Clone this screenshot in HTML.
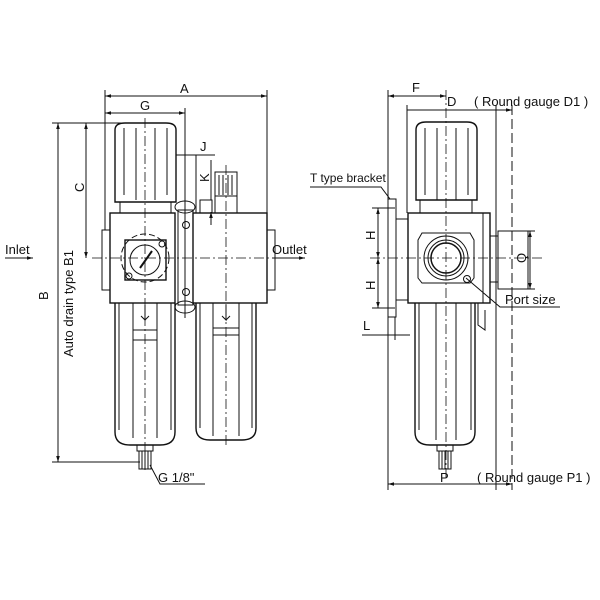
<!DOCTYPE html>
<html><head><meta charset="utf-8"><style>
html,body{margin:0;padding:0;background:#fff;}
svg{display:block;}
text{font-family:"Liberation Sans",sans-serif;fill:#111;}
</style></head><body>
<svg width="600" height="600" viewBox="0 0 600 600" xmlns="http://www.w3.org/2000/svg">
<defs>
<marker id="ar" viewBox="0 0 10 10" refX="10" refY="5" markerWidth="6" markerHeight="6" orient="auto-start-reverse"><path d="M0,2 L10,5 L0,8z" fill="#111"/></marker>
</defs>
<g stroke="#111" fill="none" stroke-width="1">
<path d="M115,130 Q115,123 125,123 L166,123 Q176,123 176,130 L176,202 L115,202 Z" stroke-width="1.4"/>
<path d="M124,128 V195 M136,128 V200 M155,128 V200 M167,128 V195"/>
<rect x="120" y="202" width="51" height="11"/>
<rect x="110" y="213" width="65" height="90" stroke-width="1.4"/>
<rect x="102" y="230" width="8" height="60"/>
<rect x="178" y="210" width="15" height="95"/>
<ellipse cx="185" cy="207" rx="10" ry="6"/>
<ellipse cx="185" cy="307" rx="10" ry="6"/>
<circle cx="186" cy="225" r="3.5"/><circle cx="186" cy="292" r="3.5"/>
<rect x="193" y="213" width="74" height="90" stroke-width="1.4"/>
<rect x="267" y="230" width="8" height="60"/>
<rect x="215" y="172" width="22" height="41"/>
<path d="M219,175 V195 M223,175 V195 M228,175 V195 M232,175 V195 M215,196 H237"/>
<rect x="200" y="200" width="12" height="13"/>
<rect x="125" y="240" width="41" height="40" stroke-width="1.4"/>
<circle cx="145" cy="260" r="15"/>
<circle cx="145" cy="258" r="24" stroke-dasharray="6,3"/>
<path d="M140,268 L152,251" stroke-width="2"/>
<circle cx="129" cy="276" r="3"/><circle cx="162" cy="244" r="3"/>
<path d="M115,303 L115,432 Q115,445 130,445 L160,445 Q175,445 175,432 L175,303" stroke-width="1.4"/>
<path d="M119,303 V430 M171,303 V430 M133,303 V438 M157,303 V438 M133,340 H157 M133,330 H157"/>
<rect x="137" y="445" width="16" height="6"/>
<rect x="139" y="451" width="12" height="18"/>
<path d="M142,451 V469 M145,451 V469 M148,451 V469"/>
<path d="M196,303 L196,428 Q196,440 210,440 L242,440 Q256,440 256,428 L256,303" stroke-width="1.4"/>
<path d="M200,303 V428 M252,303 V428 M213,303 V436 M239,303 V436 M213,335 H239 M213,328 H239"/>
<path d="M145,305 V320 L141,316 M145,320 L149,316 M226,305 V320 L222,316 M226,320 L230,316"/>
<path d="M92,258 H300" stroke-dasharray="10,3,2,3" stroke-width="0.8"/>
<path d="M145,118 V470 M226,165 V445" stroke-dasharray="10,3,2,3" stroke-width="0.8"/>
<path d="M5,258 H33" marker-end="url(#ar)"/>
<path d="M272,258 H305" marker-end="url(#ar)"/>
<path d="M105,90 V230 M267,90 V230 M185,108 V318"/>
<path d="M105,96 H267" marker-start="url(#ar)" marker-end="url(#ar)"/>
<path d="M105,113 H185" marker-start="url(#ar)" marker-end="url(#ar)"/>
<path d="M52,123 H145 M52,462 H140"/>
<path d="M58,123 V462" marker-start="url(#ar)" marker-end="url(#ar)"/>
<path d="M86,123 V258" marker-start="url(#ar)" marker-end="url(#ar)"/>
<path d="M176,155 H215 M196,155 V213"/>
<path d="M211,160 V200 M211,225 V212" marker-end="url(#ar)"/>
<path d="M150,465 L160,484 H205"/>
<path d="M416,130 Q416,122 426,122 L467,122 Q477,122 477,130 L477,200 L416,200 Z" stroke-width="1.4"/>
<path d="M425,128 V195 M437,128 V200 M456,128 V200 M468,128 V195"/>
<rect x="420" y="200" width="52" height="13"/>
<rect x="408" y="213" width="82" height="90" stroke-width="1.4"/>
<path d="M483,213 V303"/>
<rect x="388" y="199" width="8" height="118"/>
<rect x="396" y="219" width="12" height="81"/>
<rect x="490" y="236" width="8" height="46"/>
<rect x="498" y="231" width="30" height="58"/>
<path d="M422,233 L470,233 L474,240 L474,278 L470,283 L422,283 L418,278 L418,240 Z"/>
<circle cx="446" cy="258" r="22"/><circle cx="446" cy="258" r="18"/><circle cx="446" cy="258" r="15" stroke-width="1.5"/>
<circle cx="467" cy="279" r="3.5"/>
<path d="M415,303 L415,432 Q415,445 430,445 L460,445 Q475,445 475,432 L475,303" stroke-width="1.4"/>
<path d="M419,303 V430 M471,303 V430 M436,303 V440 M456,303 V440"/>
<path d="M478,303 V325 L485,330 V310"/>
<rect x="437" y="445" width="16" height="6"/>
<rect x="439" y="451" width="12" height="18"/>
<path d="M442,451 V469 M445,451 V469 M448,451 V469"/>
<path d="M446,90 V480 M370,258 H545" stroke-dasharray="10,3,2,3" stroke-width="0.8"/>
<path d="M388,90 V490 M407,105 V213 M496,105 V490"/>
<path d="M512,105 V490" stroke-dasharray="10,4"/>
<path d="M388,96 H446" marker-start="url(#ar)" marker-end="url(#ar)"/>
<path d="M407,110 H512" marker-end="url(#ar)"/>
<path d="M388,484 H512" marker-start="url(#ar)" marker-end="url(#ar)"/>
<path d="M372,208 H395 M372,308 H395"/>
<path d="M378,208 V258" marker-start="url(#ar)" marker-end="url(#ar)"/>
<path d="M378,258 V308" marker-start="url(#ar)" marker-end="url(#ar)"/>
<path d="M362,335 H410"/>
<path d="M395,317 V340"/>
<path d="M500,231 H535 M500,289 H535"/>
<path d="M530,231 V289" marker-start="url(#ar)" marker-end="url(#ar)"/>
<path d="M310,187 H381 L390,199"/>
<path d="M466,278 L500,307 H560"/>
</g>
<g font-size="13">
<text x="180" y="93">A</text>
<text x="140" y="110">G</text>
<text x="200" y="151">J</text>
<text x="5" y="254">Inlet</text>
<text x="272" y="254">Outlet</text>
<text x="158" y="482">G 1/8"</text>
<text transform="translate(84,192) rotate(-90)">C</text>
<text transform="translate(48,300) rotate(-90)">B</text>
<text transform="translate(73,357) rotate(-90)">Auto drain type B1</text>
<text transform="translate(209,182) rotate(-90)">K</text>
<text x="412" y="92">F</text>
<text x="447" y="106">D</text>
<text x="474" y="106">( Round gauge D1 )</text>
<text x="310" y="182" font-size="12">T type bracket</text>
<text transform="translate(375,240) rotate(-90)">H</text>
<text transform="translate(375,290) rotate(-90)">H</text>
<text x="363" y="330">L</text>
<text transform="translate(526,263) rotate(-90)">Q</text>
<text x="505" y="304">Port size</text>
<text x="440" y="482">P</text>
<text x="477" y="482">( Round gauge P1 )</text>
</g>
</svg>
</body></html>
